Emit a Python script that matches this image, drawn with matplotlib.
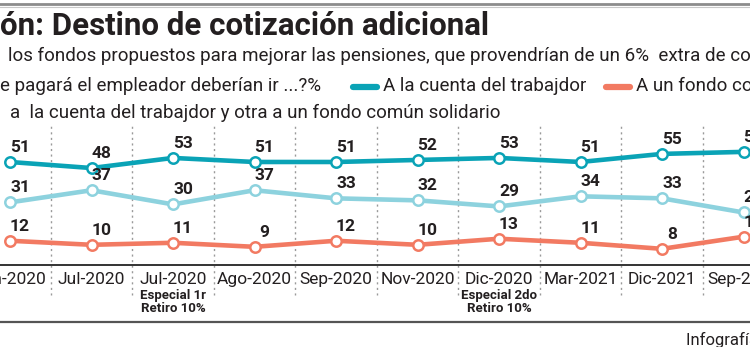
import numpy as np
import matplotlib
matplotlib.use('Agg')
import matplotlib.pyplot as plt
from matplotlib.lines import Line2D
from matplotlib.transforms import blended_transform_factory

# Encuestas y porcentajes por destino de la cotización adicional
meses = ['Jun-2020', 'Jul-2020', 'Jul-2020', 'Ago-2020', 'Sep-2020',
         'Nov-2020', 'Dic-2020', 'Mar-2021', 'Dic-2021', 'Sep-2022']
notas = {2: 'Especial 1r\nRetiro 10%', 6: 'Especial 2do\nRetiro 10%'}
cuenta_trabajador = [51, 48, 53, 51, 51, 52, 53, 51, 55, 56]
ambos_fondos = [31, 37, 30, 37, 33, 32, 29, 34, 33, 26]
fondo_solidario = [12, 10, 11, 9, 12, 10, 13, 11, 8, 14]

C_OSCURO = '#0aa3b6'
C_CLARO = '#8dd2de'
C_NARANJA = '#f27a62'
TXT = '#231f20'
FS = 13.5  # cuerpo de la pregunta y leyenda

plt.rcParams['font.family'] = ['Roboto', 'DejaVu Sans']

W, H = 750, 347
fig = plt.figure(figsize=(W / 100, H / 100), dpi=100)


def fx(x):
    return x / W


def fy(y):
    return 1 - y / H


# Área del gráfico: eje en y=265 px, 2.02 px por punto porcentual
ax = fig.add_axes([0, fy(265), 1, 70 * 2.02 / H])
ax.set_xlim(-10 / 81.5, 740 / 81.5)
ax.set_ylim(0, 70)
for s in ['top', 'left', 'right']:
    ax.spines[s].set_visible(False)
ax.spines['bottom'].set_color('#333333')
ax.spines['bottom'].set_linewidth(1.4)
ax.set_yticks([])

x = np.arange(len(meses))

# Separadores punteados entre encuestas
tr = blended_transform_factory(ax.transData, ax.transAxes)
for xi in x[:-1] + 0.5:
    ax.plot([xi, xi], [-30 / 141.4, 139 / 141.4], transform=tr, clip_on=False,
            color='#9a9a9a', lw=1, ls=(0, (1.5, 2.5)), zorder=0)

series = [(fondo_solidario, C_NARANJA), (ambos_fondos, C_CLARO),
          (cuenta_trabajador, C_OSCURO)]
for vals, col in series:
    ax.plot(x, vals, color=col, lw=3.3, solid_capstyle='round', marker='o',
            ms=7.5, mfc='white', mec=col, mew=1.8, zorder=3, clip_on=False)
    for xi, v in zip(x, vals):
        ax.annotate(str(v), (xi, v), xytext=(10, 7), textcoords='offset pixels',
                    ha='center', va='bottom', fontsize=12.5, fontweight='bold',
                    color=TXT, zorder=4)

ax.set_xticks(x)
ax.set_xticklabels(meses, fontsize=12.5, color=TXT)
ax.tick_params(axis='x', length=0, pad=5)
for i, nota in notas.items():
    ax.text(i, -24 / 141.4, nota, transform=tr, ha='center', va='top',
            fontsize=9.5, fontweight='bold', color=TXT, linespacing=0.95)

# Filetes superior e inferior
fig.add_artist(Line2D([0, 1], [fy(3.5), fy(3.5)], color='#8c8c8c', lw=2))
fig.add_artist(Line2D([0, 1], [fy(6.5), fy(6.5)], color='#c8c8c8', lw=0.8))
fig.add_artist(Line2D([0, 1], [fy(322), fy(322)], color='#555555', lw=1.6))

# Título y pregunta
fig.text(fx(0), fy(35), 'Pensi', ha='right', va='baseline', fontsize=22.5,
         fontweight='bold', color=TXT)
fig.text(fx(0), fy(35), 'ón: Destino de cotización adicional', ha='left',
         va='baseline', fontsize=22.5, fontweight='bold', color=TXT)

fig.text(fx(-1), fy(61), '¿A cuál de', ha='right', va='baseline', fontsize=FS,
         color=TXT)
fig.text(fx(8), fy(61), 'los fondos propuestos para mejorar las pensiones, que '
         'provendrían de un 6%  extra de cotización', ha='left', va='baseline',
         fontsize=FS, color=TXT)
fig.text(fx(0), fy(91), 'qu', ha='right', va='baseline', fontsize=FS,
         color=TXT)
fig.text(fx(0), fy(91), 'e pagará el empleador deberían ir ...?%', ha='left',
         va='baseline', fontsize=FS, color=TXT)

# Leyenda
leyenda = [(350, 91, C_OSCURO, 'A la cuenta del trabajdor'),
           (603, 91, C_NARANJA, 'A un fondo común solidario')]
for lx, ly, col, txt in leyenda:
    fig.add_artist(Line2D([fx(lx + 3), fx(lx + 27)], [fy(ly - 4), fy(ly - 4)],
                          color=col, lw=4.5, solid_capstyle='round'))
    fig.text(fx(lx + 33), fy(ly), txt, ha='left', va='baseline', fontsize=FS,
             color=TXT)
fig.add_artist(Line2D([fx(-90), fx(-66)], [fy(114), fy(114)], color=C_CLARO,
                      lw=4.5, solid_capstyle='round'))
fig.text(fx(-1), fy(118), 'Una parte', ha='right', va='baseline', fontsize=FS,
         color=TXT)
fig.text(fx(10), fy(118), 'a  la cuenta del trabajdor y otra a un fondo común '
         'solidario', ha='left', va='baseline', fontsize=FS, color=TXT)

fig.text(fx(686), fy(345), 'Infografía: El Mercurio', ha='left', va='baseline',
         fontsize=12, color=TXT)

fig.savefig('out.png', dpi=100)
